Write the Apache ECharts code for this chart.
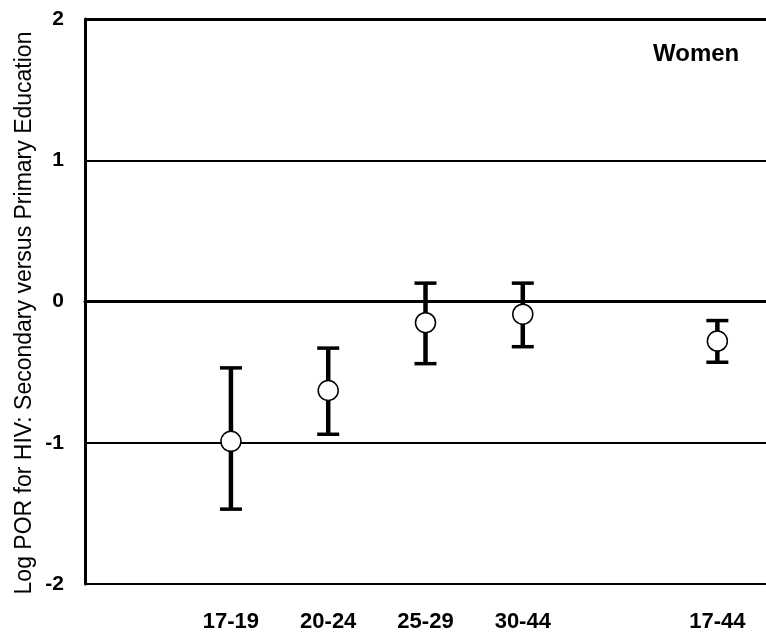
<!DOCTYPE html>
<html>
<head>
<meta charset="utf-8">
<script src="https://cdn.jsdelivr.net/npm/echarts@6/dist/echarts.min.js"></script>
<style>html,body{margin:0;padding:0;background:#fff}#c{width:766px;height:637px}</style>
</head>
<body>
<div id="c"></div>
<script>
var categories = ['', '17-19', '20-24', '25-29', '30-44', ' ', '17-44'];
var groups = ['17-19', '20-24', '25-29', '30-44', '17-44'];
var estimate = [-0.99, -0.63, -0.15, -0.09, -0.28];
var lower = [-1.47, -0.94, -0.44, -0.32, -0.43];
var upper = [-0.47, -0.33, 0.13, 0.13, -0.135];
var yTicks = [-2, -1, 0, 1, 2];
var yTitle = 'Log POR for HIV: Secondary versus Primary Education';
var panelLabel = 'Women';

var font = '"Liberation Sans", Arial, sans-serif';
var chart = echarts.init(document.getElementById('c'), null, {renderer: 'canvas'});

var errData = groups.map(function (g, i) { return [g, lower[i], upper[i]]; });
var ptData = groups.map(function (g, i) { return [g, estimate[i]]; });

chart.setOption({
  animation: false,
  backgroundColor: '#fff',
  grid: {left: 85, right: 0, top: 19, bottom: 53, containLabel: false},
  xAxis: {
    type: 'category',
    data: categories,
    boundaryGap: true,
    axisLine: {show: true, lineStyle: {color: '#000', width: 3}},
    axisTick: {show: false},
    axisLabel: {color: '#000', fontFamily: font, fontWeight: 'bold', fontSize: 22, margin: 27},
    splitLine: {show: false}
  },
  yAxis: {
    type: 'value',
    min: yTicks[0], max: yTicks[yTicks.length - 1], interval: 1,
    axisLine: {show: true, onZero: false, lineStyle: {color: '#000', width: 3}},
    axisTick: {show: false},
    axisLabel: {color: '#000', fontFamily: font, fontWeight: 'bold', fontSize: 21, margin: 21, padding: [6, 0, 0, 0]},
    splitLine: {show: true, lineStyle: {color: '#000', width: 2}}
  },
  graphic: [{
    type: 'text', x: 25, y: 313, rotation: Math.PI / 2,
    style: {text: yTitle, fill: '#000', font: '23px ' + font, align: 'center', verticalAlign: 'middle'}
  }, {
    type: 'text', left: 653, top: 42,
    style: {text: panelLabel, fill: '#000', font: 'bold 24px ' + font}
  }],
  series: [
    {
      type: 'custom',
      data: errData,
      z: 3,
      renderItem: function (params, api) {
        var x = api.value(0);
        var lo = api.coord([x, api.value(1)]);
        var hi = api.coord([x, api.value(2)]);
        var cw = 11;
        return {
          type: 'group',
          children: [
            {type: 'line', shape: {x1: lo[0], y1: lo[1], x2: hi[0], y2: hi[1]}, style: {stroke: '#000', lineWidth: 4.5}},
            {type: 'line', shape: {x1: lo[0] - cw, y1: lo[1], x2: lo[0] + cw, y2: lo[1]}, style: {stroke: '#000', lineWidth: 3.5}},
            {type: 'line', shape: {x1: hi[0] - cw, y1: hi[1], x2: hi[0] + cw, y2: hi[1]}, style: {stroke: '#000', lineWidth: 3.5}}
          ]
        };
      }
    },
    {
      type: 'scatter',
      data: ptData,
      z: 5,
      symbol: 'circle',
      symbolSize: 20,
      itemStyle: {color: '#fff', borderColor: '#000', borderWidth: 1.5, opacity: 1},
      markLine: {
        silent: true,
        symbol: ['none', 'none'],
        label: {show: false},
        lineStyle: {color: '#000', width: 3, type: 'solid'},
        z: 1,
        data: [{yAxis: 0}, {yAxis: 2}]
      }
    }
  ]
});
</script>
</body>
</html>
